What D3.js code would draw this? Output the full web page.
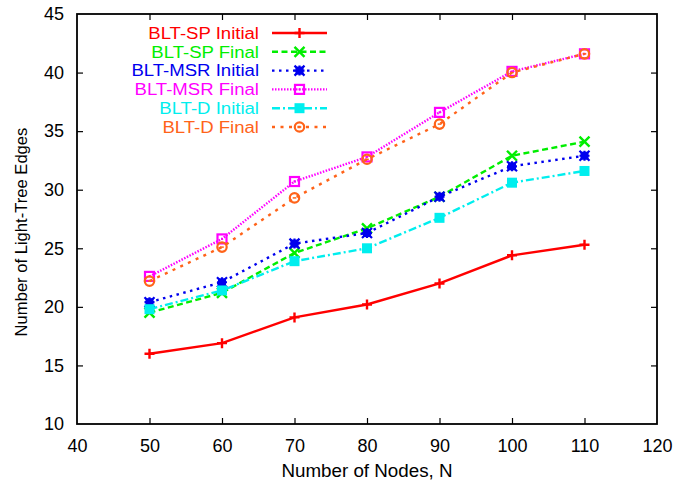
<!DOCTYPE html>
<html><head><meta charset="utf-8">
<script src="https://cdn.jsdelivr.net/npm/d3@7"></script>
<style>body{margin:0;background:#fff}svg{display:block}text{font-family:"Liberation Sans",Arial,sans-serif}</style>
</head><body><svg id="c" width="686" height="485"></svg>
<script>
const nodes = [50, 60, 70, 80, 90, 100, 110];
const spInitial  = [16.0, 16.9, 19.1, 20.2, 22.0, 24.4, 25.3];
const spFinal    = [19.5, 21.2, 24.6, 26.7, 29.4, 32.9, 34.1];
const msrInitial = [20.4, 22.1, 25.4, 26.3, 29.4, 32.0, 32.9];
const msrFinal   = [22.6, 25.8, 30.7, 32.8, 36.6, 40.1, 41.6];
const dInitial   = [19.8, 21.4, 23.9, 25.0, 27.6, 30.6, 31.6];
const dFinal     = [22.2, 25.1, 29.3, 32.6, 35.6, 40.0, 41.6];
const xTicks = [40, 50, 60, 70, 80, 90, 100, 110, 120];
const yTicks = [10, 15, 20, 25, 30, 35, 40, 45];

const series = [
  {name:"BLT-SP Initial", values:spInitial, color:"#ff0000", dash:null, marker:"plus"},
  {name:"BLT-SP Final", values:spFinal, color:"#00ee00", dash:"6,3.5", marker:"cross"},
  {name:"BLT-MSR Initial", values:msrInitial, color:"#0000ee", dash:"2.5,4.5", marker:"star"},
  {name:"BLT-MSR Final", values:msrFinal, color:"#ff00ff", dash:"1.5,1.5", marker:"opensq"},
  {name:"BLT-D Initial", values:dInitial, color:"#00eeee", dash:"8,3,2,3", marker:"fillsq"},
  {name:"BLT-D Final", values:dFinal, color:"#ff6319", dash:"3,5.5", marker:"opencirc"}
];

const L=77, R=657, T=14, B=424;
const svg = d3.select("#c");
const x = d3.scaleLinear().domain([40,120]).range([L,R]);
const y = d3.scaleLinear().domain([10,45]).range([B,T]);

const fs = "18px";
const gb = svg.append("g").attr("transform",`translate(0,${B})`)
  .call(d3.axisBottom(x).tickValues(xTicks).tickSizeInner(-6).tickSizeOuter(0).tickPadding(15));
const gt = svg.append("g").attr("transform",`translate(0,${T})`)
  .call(d3.axisTop(x).tickValues(xTicks).tickSizeInner(-6).tickSizeOuter(0).tickFormat(""));
const gl = svg.append("g").attr("transform",`translate(${L},0)`)
  .call(d3.axisLeft(y).tickValues(yTicks).tickSizeInner(-6).tickSizeOuter(0).tickPadding(13));
const gr = svg.append("g").attr("transform",`translate(${R},0)`)
  .call(d3.axisRight(y).tickValues(yTicks).tickSizeInner(-6).tickSizeOuter(0).tickFormat(""));
[gb,gt,gl,gr].forEach(g=>{
  g.select(".domain").remove();
  g.selectAll("line").attr("stroke","#000").attr("stroke-width",1.2);
  g.selectAll("text").attr("font-size",fs).attr("fill","#000").style("font-family","Liberation Sans, Arial, sans-serif");
});
gb.selectAll(".tick").filter(d=>d===40||d===120).select("line").remove();
gt.selectAll(".tick").filter(d=>d===40||d===120).select("line").remove();
gl.selectAll(".tick").filter(d=>d===10||d===45).select("line").remove();
gr.selectAll(".tick").filter(d=>d===10||d===45).select("line").remove();

svg.append("rect").attr("x",L).attr("y",T).attr("width",R-L).attr("height",B-T)
  .attr("fill","none").attr("stroke","#000").attr("stroke-width",1.8);

svg.append("text").attr("x",(L+R)/2).attr("y",477).attr("text-anchor","middle")
  .attr("font-size","18.8px").text("Number of Nodes, N");
svg.append("text").attr("transform",`translate(27,${232}) rotate(-90)`).attr("text-anchor","middle")
  .attr("font-size","16.6px").text("Number of Light-Tree Edges");

function drawMarker(g, type, cx, cy, color){
  const s = 5;
  if(type==="plus"){
    g.append("path").attr("d",`M${cx-s},${cy}H${cx+s}M${cx},${cy-s}V${cy+s}`).attr("stroke",color).attr("stroke-width",2.4).attr("fill","none");
  } else if(type==="cross"){
    g.append("path").attr("d",`M${cx-s},${cy-s}L${cx+s},${cy+s}M${cx-s},${cy+s}L${cx+s},${cy-s}`).attr("stroke",color).attr("stroke-width",2.4).attr("fill","none");
  } else if(type==="star"){
    g.append("path").attr("d",`M${cx-s},${cy}H${cx+s}M${cx},${cy-s}V${cy+s}M${cx-s},${cy-s}L${cx+s},${cy+s}M${cx-s},${cy+s}L${cx+s},${cy-s}`).attr("stroke",color).attr("stroke-width",2.2).attr("fill","none");
    g.append("rect").attr("x",cx-4).attr("y",cy-4).attr("width",8).attr("height",8).attr("fill",color);
  } else if(type==="opensq"){
    g.append("rect").attr("x",cx-4.5).attr("y",cy-4.5).attr("width",9).attr("height",9).attr("fill","none").attr("stroke",color).attr("stroke-width",2.2);
    g.append("rect").attr("x",cx-1).attr("y",cy-1).attr("width",2).attr("height",2).attr("fill",color);
  } else if(type==="fillsq"){
    g.append("rect").attr("x",cx-5).attr("y",cy-5).attr("width",10).attr("height",10).attr("fill",color);
  } else if(type==="opencirc"){
    g.append("circle").attr("cx",cx).attr("cy",cy).attr("r",4.7).attr("fill","none").attr("stroke",color).attr("stroke-width",2.2);
    g.append("path").attr("d",`M${cx-1.8},${cy}H${cx+1.8}`).attr("stroke",color).attr("stroke-width",1.5);
  }
}

const line = d3.line().x((d,i)=>x(nodes[i])).y(d=>y(d));
series.forEach(s=>{
  const g = svg.append("g");
  g.append("path").datum(s.values).attr("d",line).attr("fill","none")
    .attr("stroke",s.color).attr("stroke-width",2.4)
    .attr("stroke-dasharray",s.dash);
  s.values.forEach((v,i)=>drawMarker(g,s.marker,x(nodes[i]),y(v),s.color));
});

const legX = 259, lx1 = 272, lx2 = 327, ly0 = 33, ldy = 18.8;
series.forEach((s,i)=>{
  const yy = ly0 + i*ldy;
  const g = svg.append("g");
  const t = g.append("text").attr("x",legX).attr("y",yy).attr("dy","0.36em").attr("text-anchor","end")
    .attr("font-size","16px").attr("fill",s.color).text(s.name);
  const w = t.node().getComputedTextLength();
  t.attr("textLength", w*1.16).attr("lengthAdjust","spacingAndGlyphs");
  g.append("line").attr("x1",lx1).attr("x2",lx2).attr("y1",yy).attr("y2",yy)
    .attr("stroke",s.color).attr("stroke-width",2.4).attr("stroke-dasharray",s.dash);
  drawMarker(g,s.marker,(lx1+lx2)/2,yy,s.color);
});
</script></body></html>
